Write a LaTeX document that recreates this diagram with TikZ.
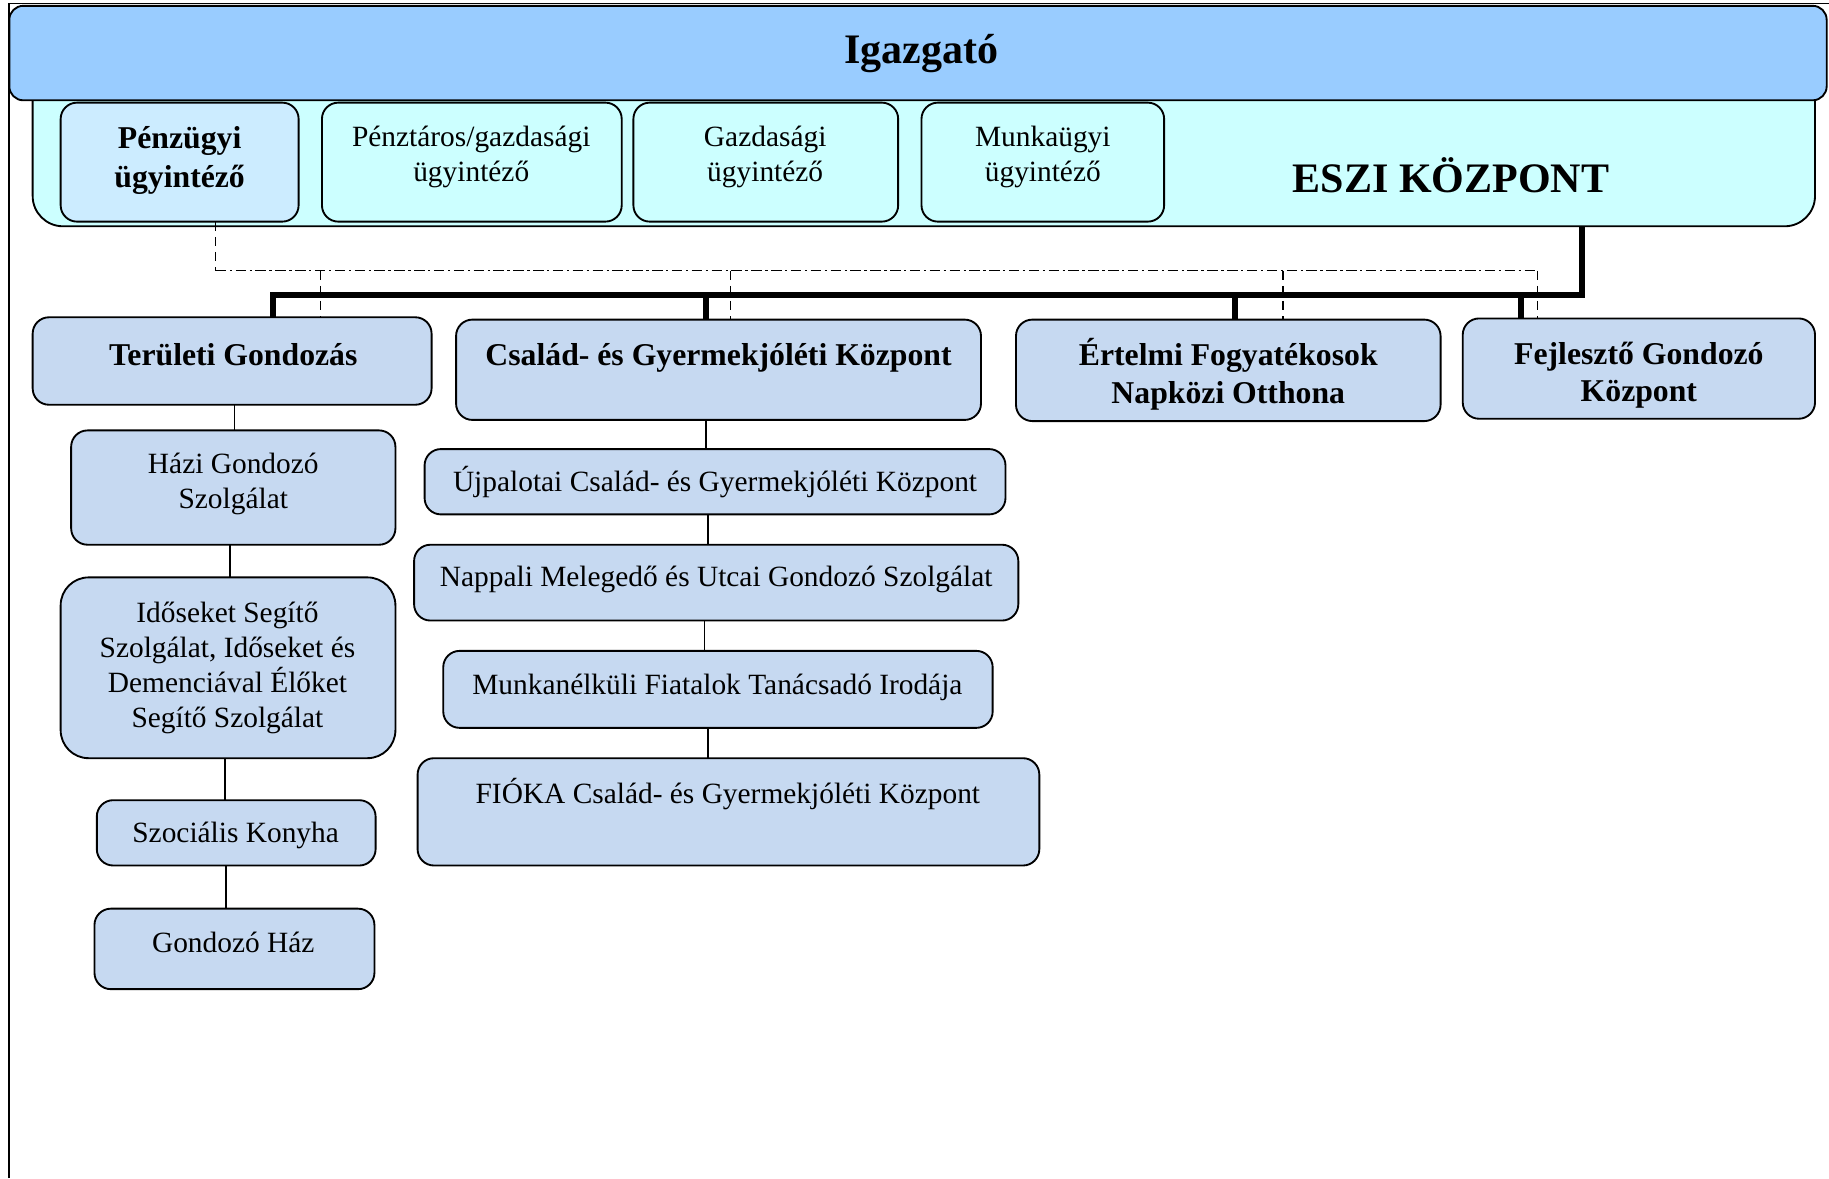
\documentclass[tikz,border=0pt]{standalone}
\usepackage{fontspec}
\setmainfont{Liberation Serif}
\usetikzlibrary{fit}
\definecolor{igazfill}{HTML}{99CCFF}
\definecolor{eszifill}{HTML}{CCFFFF}
\definecolor{penfill}{HTML}{CCECFF}
\definecolor{unitfill}{HTML}{C6D9F1}
\tikzset{
  box/.style={draw, line width=0.8pt, rounded corners=7pt, inner sep=0pt, outer sep=0pt},
  unitbox/.style={box, fill=unitfill},
  clerkbox/.style={box, fill=eszifill},
  reg/.style={font=\fontsize{12.6}{15}\selectfont, align=center, inner sep=0pt},
  bld/.style={font=\fontsize{13.6}{16}\selectfont\bfseries, align=center, inner sep=0pt},
  big/.style={font=\fontsize{18}{21}\selectfont\bfseries, align=center, inner sep=0pt},
  thin/.style={line width=0.7pt},
  thickline/.style={line width=2.4pt},
  dashv/.style={line width=0.6pt, dash pattern=on 4pt off 2.5pt},
  dashdot/.style={line width=0.6pt, dash pattern=on 4.5pt off 1.5pt on 1pt off 1.5pt},
}
\begin{document}
\begin{tikzpicture}[x=0.5pt, y={(0pt,-0.5pt)}]
\useasboundingbox (0,0) rectangle (1568,1010);
% frame
\draw[line width=0.8pt] (8,1010) -- (8,3) -- (1568,3);
% ESZI and Igazgato
\node[box, fill=eszifill, rounded corners=13pt, fit={(28,60) (1556,194)}] (eszi) {};
\node[box, fill=igazfill, rounded corners=6pt, fit={(8,5) (1566,86)}] (igaz) {};
\node[big] (igazT) at (790,46) {Igazgató};
\node[big] (esziT) at (1244,150) {ESZI KÖZPONT};
% clerks
\node[box, fill=penfill, fit={(52,88) (256,190)}] (pen) {};
\node[clerkbox, fit={(276,88) (533,190)}] (pgu) {};
\node[clerkbox, fit={(543,88) (770,190)}] (gaz) {};
\node[clerkbox, fit={(790,88) (998,190)}] (mun) {};
\node[bld, font=\fontsize{13.6}{16.5}\selectfont\bfseries] (penT) at (154,137.5) {Pénzügyi\\ügyintéző};
\node[reg] (pguT) at (404,134.5) {Pénztáros/gazdasági\\ügyintéző};
\node[reg] (gazT) at (656,134.5) {Gazdasági\\ügyintéző};
\node[reg] (munT) at (894,134.5) {Munkaügyi\\ügyintéző};
% level units
\node[unitbox, fit={(28,272) (370,347)}] (ter) {};
\node[unitbox, fit={(391,274) (841,360)}] (csal) {};
\node[unitbox, fit={(871,274) (1235,361)}] (ert) {};
\node[unitbox, fit={(1254,273) (1556,359)}] (fej) {};
\node[bld] (terT) at (200,304) {Területi Gondozás};
\node[bld] (csalT) at (616,307) {Család- és Gyermekjóléti Központ};
\node[bld] (ertT) at (1053,321) {Értelmi Fogyatékosok\\Napközi Otthona};
\node[bld] (fejT) at (1405,321.5) {Fejlesztő Gondozó\\Központ};
% column 1
\node[unitbox, fit={(61,369) (339,467)}] (hazi) {};
\node[unitbox, rounded corners=12pt, fit={(52,495) (339,650)}] (idos) {};
\node[unitbox, fit={(83,686) (322,742)}] (szoc) {};
\node[unitbox, fit={(81,779) (321,848)}] (gh) {};
\node[reg] (haziT) at (200,415) {Házi Gondozó\\Szolgálat};
\node[reg] (idosT) at (195,573) {Időseket Segítő\\Szolgálat, Időseket és\\Demenciával Élőket\\Segítő Szolgálat};
\node[reg] (szocT) at (202,716) {Szociális Konyha};
\node[reg] (ghT) at (200,808) {Gondozó Ház};
% column 2
\node[unitbox, fit={(364,385) (862,441)}] (ujp) {};
\node[unitbox, fit={(355,467) (873,532)}] (napp) {};
\node[unitbox, fit={(380,558) (851,624)}] (munk) {};
\node[unitbox, fit={(358,650) (891,742)}] (fio) {};
\node[reg] (ujpT) at (613,413) {Újpalotai Család- és Gyermekjóléti Központ};
\node[reg] (nappT) at (614,497) {Nappali Melegedő és Utcai Gondozó Szolgálat};
\node[reg] (munkT) at (615,589) {Munkanélküli Fiatalok Tanácsadó Irodája};
\node[reg] (fioT) at (624,681) {FIÓKA Család- és Gyermekjóléti Központ};
% thick bus
\coordinate (busR) at (1356,253);
\coordinate (busL) at (234,253);
\coordinate (bus2) at (605,253);
\coordinate (bus3) at (1059,253);
\coordinate (bus4) at (1304,253);
\draw[thickline] (eszi.south -| busR) -- (busR) -- (busL) -- (busL |- ter.north);
\draw[thickline] (bus2) -- (bus2 |- csal.north);
\draw[thickline] (bus3) -- (bus3 |- ert.north);
\draw[thickline] (bus4) -- (bus4 |- fej.north);
% dash-dot bus
\coordinate (dL) at (185,232);
\coordinate (dR) at (1318,232);
\coordinate (d1) at (275,232);
\coordinate (d2) at (626,232);
\coordinate (d3) at (1100,232);
\draw[dashv] (pen.south -| dL) -- (dL);
\draw[dashdot] (dL) -- (dR);
\draw[dashv] (dR) -- (dR |- fej.north);
\draw[dashv] (d1) -- (d1 |- ter.north);
\draw[dashv] (d2) -- (d2 |- csal.north);
\draw[dashv] (d3) -- (d3 |- ert.north);
% thin connectors column 1
\coordinate (c1) at (201,0);
\coordinate (c2) at (197,0);
\coordinate (c3) at (193,0);
\coordinate (c4) at (194,0);
\draw[thin] (c1 |- ter.south) -- (c1 |- hazi.north);
\draw[thin] (c2 |- hazi.south) -- (c2 |- idos.north);
\draw[thin] (c3 |- idos.south) -- (c3 |- szoc.north);
\draw[thin] (c4 |- szoc.south) -- (c4 |- gh.north);
% thin connectors column 2
\coordinate (e1) at (605,0);
\coordinate (e2) at (607,0);
\coordinate (e3) at (604,0);
\coordinate (e4) at (607,0);
\draw[thin] (e1 |- csal.south) -- (e1 |- ujp.north);
\draw[thin] (e2 |- ujp.south) -- (e2 |- napp.north);
\draw[thin] (e3 |- napp.south) -- (e3 |- munk.north);
\draw[thin] (e4 |- munk.south) -- (e4 |- fio.north);
\end{tikzpicture}
\end{document}
